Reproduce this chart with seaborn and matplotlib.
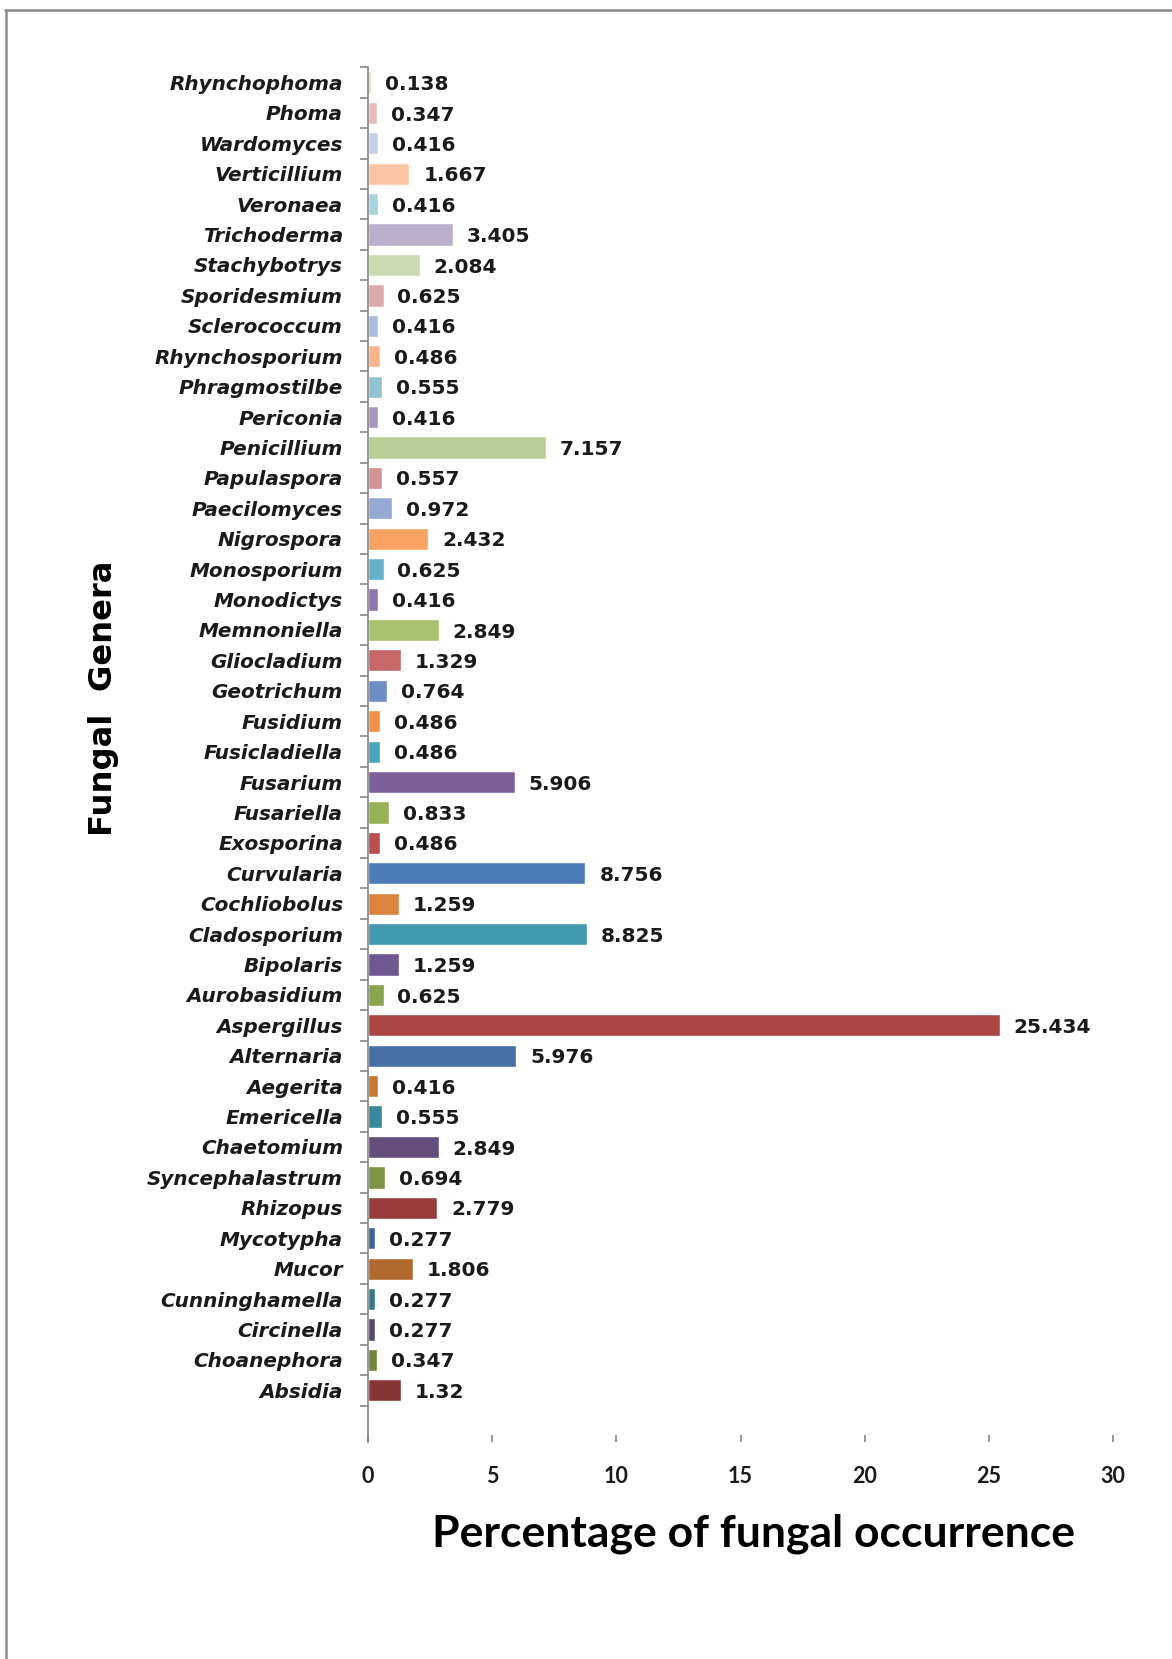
import matplotlib
matplotlib.use("Agg")
import matplotlib.pyplot as plt
import seaborn as sns
import pandas as pd
from matplotlib.lines import Line2D
from matplotlib.ticker import FixedLocator

# Fungal genera, listed top to bottom
genera = [
    "Rhynchophoma", "Phoma", "Wardomyces", "Verticillium", "Veronaea",
    "Trichoderma", "Stachybotrys", "Sporidesmium", "Sclerococcum",
    "Rhynchosporium", "Phragmostilbe", "Periconia", "Penicillium",
    "Papulaspora", "Paecilomyces", "Nigrospora", "Monosporium",
    "Monodictys", "Memnoniella", "Gliocladium", "Geotrichum", "Fusidium",
    "Fusicladiella", "Fusarium", "Fusariella", "Exosporina", "Curvularia",
    "Cochliobolus", "Cladosporium", "Bipolaris", "Aurobasidium",
    "Aspergillus", "Alternaria", "Aegerita", "Emericella", "Chaetomium",
    "Syncephalastrum", "Rhizopus", "Mycotypha", "Mucor", "Cunninghamella",
    "Circinella", "Choanephora", "Absidia",
]

# Percentage of fungal occurrence for each genus
occurrence = [
    0.138, 0.347, 0.416, 1.667, 0.416,
    3.405, 2.084, 0.625, 0.416,
    0.486, 0.555, 0.416, 7.157,
    0.557, 0.972, 2.432, 0.625,
    0.416, 2.849, 1.329, 0.764, 0.486,
    0.486, 5.906, 0.833, 0.486, 8.756,
    1.259, 8.825, 1.259, 0.625,
    25.434, 5.976, 0.416, 0.555, 2.849,
    0.694, 2.779, 0.277, 1.806, 0.277,
    0.277, 0.347, 1.32,
]

bar_colors = [
    "#d6e3bc", "#e6bcbb", "#c5cfe5", "#f9c4a4", "#a9d3de",
    "#bbb1cc", "#cad9b0", "#dbabab", "#adbcdb",
    "#f9b48c", "#92c4d4", "#a898c0", "#b9cd96",
    "#d49191", "#95a9d2", "#f7a263", "#63b3cb",
    "#8f76ab", "#a7c16d", "#c76766", "#6c8ec4", "#ef9247",
    "#4aa6c0", "#7d5f9a", "#95b356", "#ba4e4c", "#4b7cb7",
    "#dc843e", "#4399b0", "#6f5892", "#89a54e",
    "#aa4744", "#4571a6", "#c87934", "#3b879c", "#634e7e",
    "#7c9443", "#973e3c", "#3c6499", "#b0692e", "#367a8c",
    "#584670", "#6e853b", "#883635",
]

x_ticks = [0, 5, 10, 15, 20, 25, 30]

df = pd.DataFrame({"genus": genera, "pct": occurrence})

sns.set_style("white")
plt.rcParams["font.family"] = ["DejaVu Sans"]

W, H = 1172, 1659
fig = plt.figure(figsize=(W / 100, H / 100), dpi=100)
ax_left, ax_right = 368 / W, 1113 / W
ax_top, ax_bottom = 1 - 67.3 / H, 1 - 1442 / H
ax = fig.add_axes([ax_left, ax_bottom, ax_right - ax_left, ax_top - ax_bottom])

sns.barplot(
    data=df, y="genus", x="pct", hue="genus", order=genera, hue_order=genera,
    palette=bar_colors, width=0.73, legend=False, saturation=1,
    errorbar=None, ax=ax,
)

# Value labels to the right of each bar
for cont in ax.containers:
    for t in ax.bar_label(cont, fmt="%g", padding=10, fontsize=14.5,
                          fontweight="bold", color="#1a1a1a",
                          family="DejaVu Sans"):
        t.xyann = (10, -1.5)

ax.set_xlim(0, 30)
ax.set_ylim(44.7, -0.5)

axis_grey = "#868686"
for side in ("top", "right", "bottom"):
    ax.spines[side].set_visible(False)
ax.spines["left"].set_color(axis_grey)
ax.spines["left"].set_linewidth(1.2)

# Category labels with boundary tick marks
ax.yaxis.set_minor_locator(FixedLocator([i - 0.5 for i in range(len(genera) + 1)]))
ax.tick_params(axis="y", which="major", length=0, pad=18)
ax.tick_params(axis="y", which="minor", left=True, length=6, width=1.2,
               color=axis_grey, direction="out")
for lbl in ax.get_yticklabels():
    lbl.set_fontsize(14.4)
    lbl.set_fontweight("bold")
    lbl.set_fontstyle("italic")
    lbl.set_color("#1a1a1a")

ax.set_xticks(x_ticks)
ax.set_xticklabels([str(t) for t in x_ticks], family="Lato", fontweight="bold",
                   fontsize=15.5, color="#1a1a1a")
ax.tick_params(axis="x", which="major", bottom=True, direction="in", length=5,
               width=1.2, color=axis_grey, pad=17)

ax.set_xlabel("Percentage of fungal occurrence", family="Lato",
              fontweight="bold", fontsize=32, color="black", va="center")
ax.xaxis.set_label_coords((753 - 368) / 745, (1442 - 1534) / 1374.7)
ax.set_ylabel("Fungal  Genera", fontweight="bold", fontsize=23.2,
              color="black", va="center", ha="center")
ax.yaxis.set_label_coords((104 - 368) / 745, (1442 - 698) / 1374.7)

# Outer frame lines along the top and left edges
frame_grey = "#8c8c8c"
fig.add_artist(Line2D([5 / W, 1], [1 - 10 / H, 1 - 10 / H], color=frame_grey,
                      lw=1.8, transform=fig.transFigure))
fig.add_artist(Line2D([6 / W, 6 / W], [0, 1 - 10 / H], color=frame_grey,
                      lw=1.8, transform=fig.transFigure))

fig.savefig("out.png", dpi=100, facecolor="white")
